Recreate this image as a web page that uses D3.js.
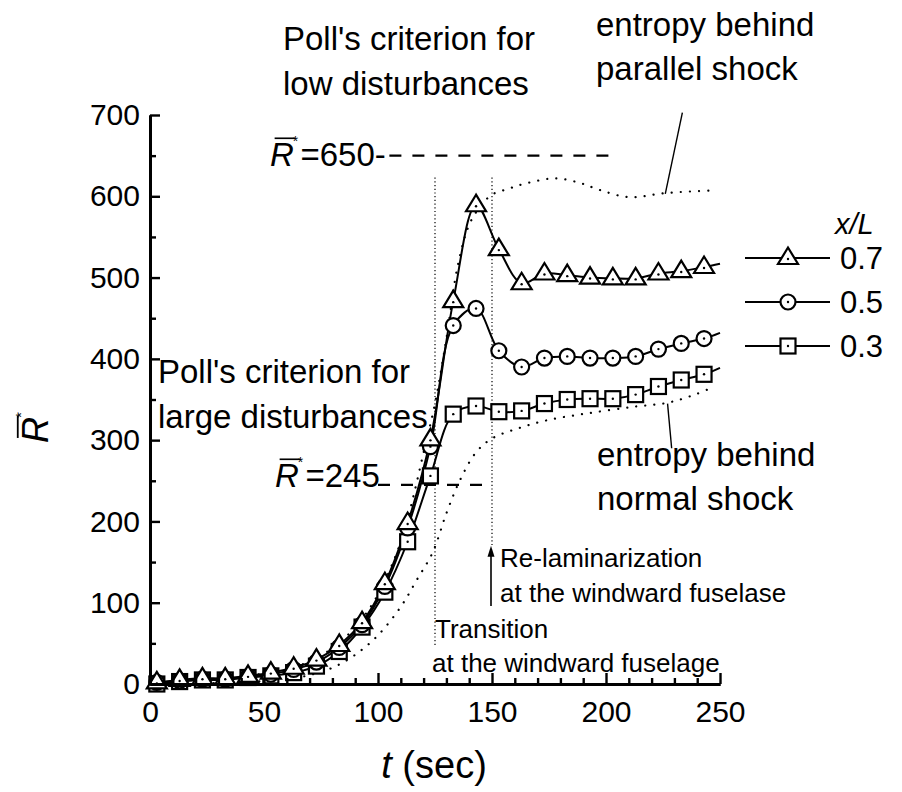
<!DOCTYPE html>
<html>
<head>
<meta charset="utf-8">
<script src="https://cdn.jsdelivr.net/npm/d3@7"></script>
<style>
body{margin:0;background:#fff;}
text{font-family:"Liberation Sans",Arial,Helvetica,sans-serif;fill:#000;}
</style>
</head>
<body>
<svg id="canvas" width="902" height="792"></svg>
<script>
// time of the measured points (sec)
let tPts=[3,13,23,33,43,53,63,73,83,93,103,113,123,133,143,153,163,173,183,193,203,213,223,233,243];
// R-bar* for x/L = 0.7, 0.5, 0.3
let s07=[2,5,7,7,10,14,20,30,48,76,124,198,301,471,589,535,493,505,503,500,499,499,505,508,513];
let s05=[2,4,6,6,9,12,18,27,45,73,120,192,292,441,462,410,390,401,403,401,401,403,412,419,425];
let s03=[0,3,5,5,8,10,14,22,40,70,113,175,256,332,342,335,336,345,350,351,351,356,366,374,381];
// where the curves end at the right edge
let tEnd=250;
let end07=517, end05=432, end03=389;

// entropy behind parallel shock (dotted)
let tPar=[0,20,40,60,70,80,90,100,110,115,120,125,130,135,140,145,150,157,165,178,189,197,210,226,245];
let vPar=[0,4,9,18,28,44,70,110,175,225,285,345,425,515,565,588,602,609,616,622,616,608,599,604,607];
// entropy behind normal shock (dotted)
let tNorm=[0,40,60,70,80,90,100,110,117,124,130,136,143,150,162,175,192,212,227,238,246];
let vNorm=[0,2,6,11,20,36,60,95,128,162,210,251,285,302,315,325,333,341,346,355,364];

let xTicks=[0,50,100,150,200,250];
let yTicks=[0,100,200,300,400,500,600,700];
let legendLabels=["0.7","0.5","0.3"];

let canvas=d3.select("#canvas");
let x=d3.scaleLinear().domain([0,250]).range([150,720]);
let y=d3.scaleLinear().domain([0,700]).range([684,115]);

// reference lines / markers of the annotations
let tTrans=125, tRelam=150;

// ---- dotted entropy curves
let smooth=d3.line().x(d=>x(d[0])).y(d=>y(d[1])).curve(d3.curveCatmullRom.alpha(0.5));
[[tPar,vPar],[tNorm,vNorm]].forEach(p=>{
  canvas.append("path").datum(p[0].map((t,i)=>[t,p[1][i]])).attr("d",smooth)
    .attr("fill","none").attr("stroke","#000").attr("stroke-width",2.2)
    .attr("stroke-linecap","round").attr("stroke-dasharray","0.1 9");
});

// ---- vertical dotted lines
canvas.append("line").attr("x1",x(tTrans)).attr("x2",x(tTrans)).attr("y1",y(623)).attr("y2",y(45))
  .attr("stroke","#000").attr("stroke-width",1.2).attr("stroke-dasharray","1.2 2.5");
canvas.append("line").attr("x1",x(tRelam)).attr("x2",x(tRelam)).attr("y1",y(623)).attr("y2",y(168))
  .attr("stroke","#000").attr("stroke-width",1.2).attr("stroke-dasharray","1.2 2.5");
// arrow
canvas.append("line").attr("x1",x(tRelam)-1).attr("x2",x(tRelam)-1).attr("y1",y(96)).attr("y2",y(164))
  .attr("stroke","#000").attr("stroke-width",1.6);
canvas.append("path")
  .attr("d",`M${x(tRelam)-1},${y(170)} l-3.5,11 l7,0 z`).attr("fill","#000");

// ---- dashed criteria lines
canvas.append("line").attr("x1",x(105)).attr("x2",x(202)).attr("y1",y(650)).attr("y2",y(650))
  .attr("stroke","#000").attr("stroke-width",2.2).attr("stroke-dasharray","12 11");
canvas.append("line").attr("x1",x(100)).attr("x2",x(150)).attr("y1",y(245)).attr("y2",y(245))
  .attr("stroke","#000").attr("stroke-width",2.2).attr("stroke-dasharray","12 11");

// ---- leader lines
canvas.append("line").attr("x1",x(233.5)).attr("y1",y(703)).attr("x2",x(226)).attr("y2",y(603))
  .attr("stroke","#000").attr("stroke-width",1.4);
canvas.append("line").attr("x1",x(227)).attr("y1",y(345)).attr("x2",x(228.8)).attr("y2",y(290))
  .attr("stroke","#000").attr("stroke-width",1.4);

// ---- series
let series=[
  {vals:s03,end:end03,sym:"sq"},
  {vals:s05,end:end05,sym:"ci"},
  {vals:s07,end:end07,sym:"tr"}
];
let curve=d3.line().x(d=>x(d[0])).y(d=>y(d[1])).curve(d3.curveCatmullRom.alpha(0.5));

let marker=(g,sym)=>{
  if(sym=="tr"){
    g.append("path").attr("d","M0,-10.5L-10,6L10,6Z");
  } else if(sym=="ci"){
    g.append("circle").attr("r",7.5);
  } else {
    g.append("rect").attr("x",-7.5).attr("y",-7.5).attr("width",15).attr("height",15);
  }
  g.selectAll("path,circle,rect").attr("fill","#fff").attr("stroke","#000").attr("stroke-width",2.2);
  g.append("circle").attr("r",1.2).attr("cy",sym=="tr"?1:0).attr("fill","#000");
};

series.forEach(s=>{
  let pts=tPts.map((t,i)=>[t,s.vals[i]]);
  canvas.append("path").datum(pts.concat([[tEnd,s.end]])).attr("d",curve)
    .attr("fill","none").attr("stroke","#000").attr("stroke-width",2);
});
series.forEach(s=>{
  tPts.forEach((t,i)=>{
    let g=canvas.append("g").attr("transform",`translate(${x(t)},${y(s.vals[i])})`);
    marker(g,s.sym);
  });
});

// ---- axes
let yAxis=d3.axisLeft(y).tickValues(yTicks).tickSizeInner(-10).tickSizeOuter(0).tickPadding(10).tickFormat(d3.format("d"));
let yMinor=d3.axisLeft(y).tickValues(d3.range(50,700,100)).tickSizeInner(-6).tickSizeOuter(0).tickFormat("");
let xAxis=d3.axisBottom(x).tickValues(xTicks).tickSizeInner(-11).tickSizeOuter(0).tickPadding(17).tickFormat(d3.format("d"));
let xMinor=d3.axisBottom(x).tickValues(d3.range(10,250,10).filter(v=>v%50)).tickSizeInner(-6).tickSizeOuter(0).tickFormat("");

[[yAxis,"translate(150,0)"],[yMinor,"translate(150,0)"],[xAxis,"translate(0,684)"],[xMinor,"translate(0,684)"]].forEach(a=>{
  let g=canvas.append("g").attr("transform",a[1]).call(a[0]);
  g.selectAll("path.domain").attr("stroke","#000").attr("stroke-width",3);
  g.selectAll(".tick line").attr("stroke","#000").attr("stroke-width",2.4);
  g.selectAll(".tick text").style("font-size","30px").style("font-family",'"Liberation Sans",Arial,sans-serif').attr("fill","#000");
});

// ---- R-bar* helper
let rbar=(g,x0,yb,fs)=>{
  let r=g.append("text").attr("x",x0).attr("y",yb).style("font-size",fs+"px").style("font-style","italic").text("R");
  let w=r.node().getComputedTextLength();
  g.append("line").attr("x1",x0+fs*0.14).attr("x2",x0+w+fs*0.04).attr("y1",yb-fs*0.84).attr("y2",yb-fs*0.84)
    .attr("stroke","#000").attr("stroke-width",Math.max(1.3,fs*0.05));
  g.append("text").attr("x",x0+w-fs*0.03).attr("y",yb-fs*0.6).style("font-size",(fs*0.42)+"px").text("*");
  return x0+w+fs*0.2;
};

let txt=(s,x0,yb,fs)=>canvas.append("text").attr("x",x0).attr("y",yb).style("font-size",fs+"px").text(s);

// criteria labels
let e1=rbar(canvas,270,166,33);
txt("=650-",e1,166,33);
let e2=rbar(canvas,275,487,33);
txt("=245",e2,487,33);

// annotations
txt("Poll's criterion for",283,50,33);
txt("low disturbances",283,95,33);
txt("entropy behind",596,36,33);
txt("parallel shock",596,80,33);
txt("Poll's criterion for",158,383,33);
txt("large disturbances",158,428,33);
txt("entropy behind",597,466,33);
txt("normal shock",597,510,33);
txt("Re-laminarization",500,567,26);
txt("at the windward fuselase",500,602,26);
txt("Transition",435,638,26);
txt("at the windward fuselage",432,672,26);

// axis titles
let yl=canvas.append("g").attr("transform","translate(48,431) rotate(-90)");
rbar(yl,-12,0,36);
let xl=canvas.append("text").attr("x",434).attr("y",778).attr("text-anchor","middle").style("font-size","38px");
xl.append("tspan").style("font-style","italic").text("t");
xl.append("tspan").text(" (sec)");

// ---- legend
canvas.append("text").attr("x",835).attr("y",234).style("font-size","29px").style("font-style","italic").text("x/L");
let legendSyms=["tr","ci","sq"];
legendLabels.forEach((l,i)=>{
  let ly=258+i*44;
  canvas.append("line").attr("x1",745).attr("x2",830).attr("y1",ly).attr("y2",ly).attr("stroke","#000").attr("stroke-width",2);
  let g=canvas.append("g").attr("transform",`translate(788,${ly})`);
  marker(g,legendSyms[i]);
  canvas.append("text").attr("x",840).attr("y",ly+11).style("font-size","31px").text(l);
});
</script>
</body>
</html>
